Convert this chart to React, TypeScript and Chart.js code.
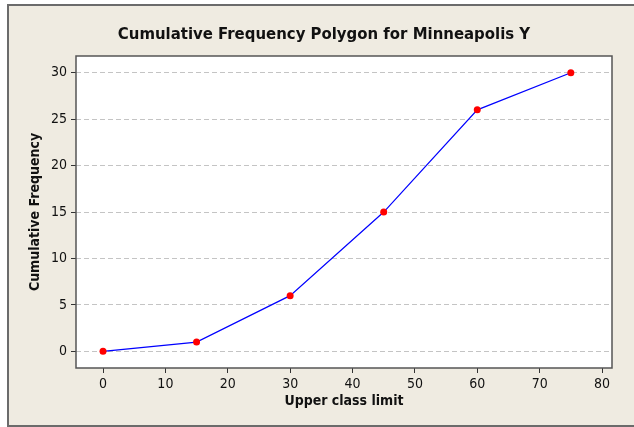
import { useEffect, useRef } from "react";
import { Chart, registerables } from "chart.js";

Chart.register(...registerables);

const upperLimits = [0, 15, 30, 45, 60, 75];
const cumulativeFreq = [0, 1, 6, 15, 26, 30];
const xTicks = [0, 10, 20, 30, 40, 50, 60, 70, 80];
const yTicks = [0, 5, 10, 15, 20, 25, 30];
const chartTitle = "Cumulative Frequency Polygon for Minneapolis Y";
const xTitle = "Upper class limit";
const yTitle = "Cumulative Frequency";

const FONT = "'DejaVu Sans Condensed', 'DejaVu Sans', sans-serif";
const BEIGE = "#efebe1";

const framePlugin = {
  id: "frame",
  beforeDraw(chart: any) {
    const { ctx, width, height, chartArea } = chart;
    ctx.save();
    ctx.fillStyle = "#ffffff";
    ctx.fillRect(0, 0, width, height);
    ctx.fillStyle = BEIGE;
    ctx.fillRect(7, 4, width - 7, height - 4);
    ctx.fillStyle = "#6b6b6b";
    ctx.fillRect(7, 4, 2, height - 5);
    ctx.fillRect(7, 4, width - 7, 2);
    ctx.fillRect(7, height - 2, width - 7, 2);
    ctx.fillStyle = "#ffffff";
    ctx.fillRect(chartArea.left, chartArea.top, chartArea.right - chartArea.left, chartArea.bottom - chartArea.top);
    ctx.restore();
  },
  afterDraw(chart: any) {
    const { ctx, chartArea } = chart;
    ctx.save();
    ctx.strokeStyle = "#555555";
    ctx.lineWidth = 1.5;
    ctx.strokeRect(chartArea.left, chartArea.top, chartArea.right - chartArea.left, chartArea.bottom - chartArea.top);
    ctx.fillStyle = "#111111";
    ctx.font = `bold 16.6px ${FONT}`;
    ctx.textAlign = "center";
    ctx.textBaseline = "middle";
    ctx.fillText(chartTitle, 324, 35);
    ctx.restore();
  },
};

export default function App() {
  const ref = useRef<HTMLCanvasElement | null>(null);
  useEffect(() => {
    if (!ref.current) return;
    const chart = new Chart(ref.current, {
      type: "line",
      data: {
        datasets: [
          {
            data: upperLimits.map((x, i) => ({ x, y: cumulativeFreq[i] })),
            borderColor: "#0000ff",
            borderWidth: 1.2,
            pointBackgroundColor: "#ff0000",
            pointBorderColor: "#ff0000",
            pointRadius: 3.5,
            pointBorderWidth: 0,
            tension: 0,
          },
        ],
      },
      options: {
        animation: false,
        responsive: false,
        devicePixelRatio: 1,
        layout: { padding: { top: 56, right: 22, bottom: 0, left: 0 } },
        plugins: { legend: { display: false }, tooltip: { enabled: false } },
        scales: {
          x: {
            type: "linear",
            min: -4.33,
            max: 81.6,
            afterBuildTicks: (s: any) => {
              s.ticks = xTicks.map((v) => ({ value: v }));
            },
            afterFit: (s: any) => {
              s.height = 59;
            },
            grid: { drawOnChartArea: false, drawTicks: true, tickLength: 5, tickColor: "#333333", tickWidth: 1 },
            border: { display: false },
            ticks: { color: "#111111", font: { family: FONT, size: 14 }, padding: 3, maxRotation: 0, autoSkip: false },
            title: { display: true, text: xTitle, color: "#111111", font: { family: FONT, size: 14, weight: "bold" }, padding: { top: 0, bottom: 17 } },
          },
          y: {
            type: "linear",
            min: -1.79,
            max: 31.8,
            afterBuildTicks: (s: any) => {
              s.ticks = yTicks.map((v) => ({ value: v }));
            },
            afterFit: (s: any) => {
              s.width = 76;
            },
            grid: { drawOnChartArea: true, drawTicks: true, tickLength: 5, tickColor: "#333333", color: "#c4c4c4", lineWidth: 1 },
            border: { display: false, dash: [5, 3] },
            ticks: { color: "#111111", font: { family: FONT, size: 14 }, padding: 4, autoSkip: false },
            title: { display: true, text: yTitle, color: "#111111", font: { family: FONT, size: 14, weight: "bold" }, padding: { top: 27, bottom: 0 } },
          },
        },
      },
      plugins: [framePlugin],
    });
    return () => chart.destroy();
  }, []);
  return (
    <div style={{ position: "fixed", left: 0, top: 0, width: 634, height: 427 }}>
      <canvas ref={ref} width={634} height={427} />
    </div>
  );
}
